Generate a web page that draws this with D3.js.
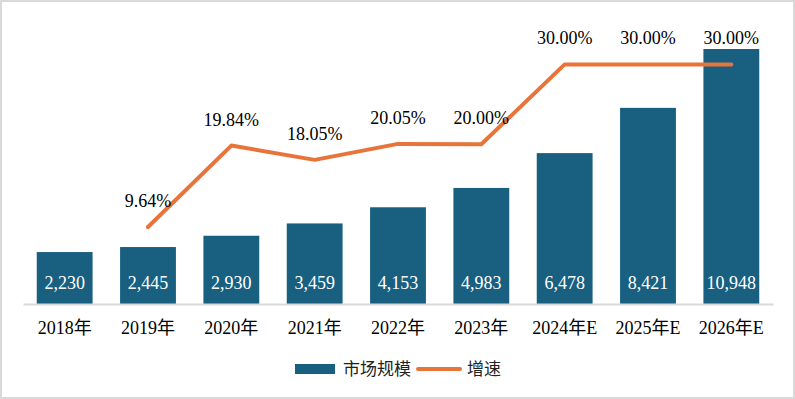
<!DOCTYPE html>
<html><head><meta charset="utf-8">
<script src="https://cdn.jsdelivr.net/npm/d3@7"></script>
<style>html,body{margin:0;padding:0;background:#fff;}svg{display:block;}
.serif{font-family:"Liberation Serif","Times New Roman",Times,"Noto Sans CJK SC",serif;}</style>
</head><body>
<svg id="c" width="795" height="399"></svg>
<script>
const categories = ["2018年","2019年","2020年","2021年","2022年","2023年","2024年E","2025年E","2026年E"];
const marketSize = [2230, 2445, 2930, 3459, 4153, 4983, 6478, 8421, 10948];
const growth = [null, 9.64, 19.84, 18.05, 20.05, 20.00, 30.00, 30.00, 30.00];
const seriesNames = ["市场规模", "增速"];

const barColor = "#185F80", lineColor = "#E8743A";
const svg = d3.select("#c");

svg.append("rect").attr("x",1).attr("y",1).attr("width",793).attr("height",397)
  .attr("fill","#fff").attr("stroke","#d9d9d9").attr("stroke-width",2);

const x = d3.scaleBand().domain(categories).range([23, 773]).padding(0);
const barW = x.bandwidth() * 0.67;
const y = d3.scaleLinear().domain([0, 12000]).range([304, 24.5]);
const y2 = d3.scaleLinear().domain([0, 35]).range([304, 24.5]);

svg.append("g").selectAll("rect").data(marketSize).join("rect")
  .attr("x",(d,i)=>x(categories[i]) + (x.bandwidth()-barW)/2)
  .attr("y",d=>y(d)).attr("width",barW).attr("height",d=>y(0)-y(d))
  .attr("fill",barColor);

// axis
const xAxis = svg.append("g").attr("transform",`translate(0,${y(0)})`)
  .call(d3.axisBottom(x).tickSize(0).tickPadding(0));
xAxis.attr("font-family",null).attr("font-size",null);
xAxis.select(".domain").attr("stroke","#d9d9d9").attr("stroke-width",2);
xAxis.selectAll("text").attr("class","serif").attr("font-size",18)
  .attr("fill","#000").attr("dy",null).attr("y",30);

// value labels
svg.append("g").selectAll("text").data(marketSize).join("text")
  .attr("class","serif")
  .attr("x",(d,i)=>x(categories[i]) + x.bandwidth()/2)
  .attr("y",y(0)-15).attr("text-anchor","middle")
  .attr("font-size",18).attr("fill","#fff")
  .text(d=>d3.format(",")(d));

// line
const pts = growth.map((g,i)=>({c:categories[i], g})).filter(d=>d.g!==null);
svg.append("path").datum(pts)
  .attr("d", d3.line().x(d=>x(d.c)+x.bandwidth()/2).y(d=>y2(d.g)))
  .attr("fill","none").attr("stroke",lineColor).attr("stroke-width",4)
  .attr("stroke-linecap","round").attr("stroke-linejoin","round");

svg.append("g").selectAll("text").data(pts).join("text")
  .attr("class","serif")
  .attr("x",d=>x(d.c)+x.bandwidth()/2)
  .attr("y",d=>y2(d.g)-20).attr("text-anchor","middle")
  .attr("font-size",18).attr("fill","#000")
  .text(d=>d.g.toFixed(2)+"%");

// legend
const lg = svg.append("g");
lg.append("rect").attr("x",295).attr("y",364).attr("width",40).attr("height",10).attr("fill",barColor);
lg.append("text").attr("class","serif").attr("x",343).attr("y",375).attr("font-size",17)
  .attr("fill","#222").text(seriesNames[0]);
lg.append("line").attr("x1",418).attr("x2",460).attr("y1",369).attr("y2",369)
  .attr("stroke",lineColor).attr("stroke-width",4).attr("stroke-linecap","round");
lg.append("text").attr("class","serif").attr("x",467).attr("y",375).attr("font-size",17)
  .attr("fill","#222").text(seriesNames[1]);
</script>
</body></html>
